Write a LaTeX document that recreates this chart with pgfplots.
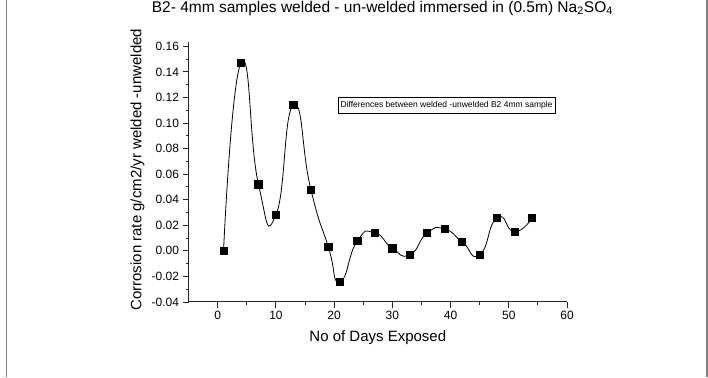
\documentclass[border=0pt]{standalone}
\usepackage{fontspec}
\setmainfont{Liberation Sans}
\usepackage{pgfplots}
\usepackage{pgfplotstable}
\pgfplotsset{compat=1.18}

% Difference in corrosion rate (welded minus un-welded), B2 4mm sample
\pgfplotstableread{
day   diff
1     0.000
4     0.147
7     0.052
10    0.028
13    0.114
16    0.048
19    0.003
21   -0.024
24    0.008
27    0.014
30    0.002
33   -0.003
36    0.014
39    0.017
42    0.007
45   -0.003
48    0.026
51    0.015
54    0.026
}\diffdata

\begin{document}
\begin{tikzpicture}[x=1pt,y=1pt]
\useasboundingbox (0,0) rectangle (708,377);
% page frame lines
\draw[black!50, line width=1.4pt] (6.5,0) -- (6.5,377);
\draw[black!50, line width=1.4pt] (707,0) -- (707,377);
\begin{axis}[
  at={(188.6pt,75pt)}, anchor=south west,
  scale only axis, width=378.4pt, height=259.5pt,
  xmin=-5, xmax=60, ymin=-0.04, ymax=0.163,
  axis lines=left,
  axis line style={-, line width=1.0pt, black!85},
  tick style={line width=0.9pt, black!85},
  tick align=outside,
  major tick length=6pt, minor tick length=3pt,
  xtick={0,10,20,30,40,50,60},
  ytick={-0.04,-0.02,0,0.02,0.04,0.06,0.08,0.10,0.12,0.14,0.16},
  minor x tick num=1, minor y tick num=1,
  /pgf/number format/assume math mode=true,
  tick label style={font=\fontsize{12}{14}\selectfont},
  yticklabel style={/pgf/number format/.cd, fixed, fixed zerofill, precision=2},
  xlabel={No of Days Exposed},
  ylabel={Corrosion rate g/cm2/yr welded -unwelded},
  label style={font=\fontsize{15}{18}\selectfont},
  xlabel style={at={(axis description cs:0.5,-0.152)}, anchor=base},
  ylabel style={at={(axis description cs:-0.1245,0.51)}, anchor=base, rotate=0},
  title={B2- 4mm samples welded - un-welded immersed in (0.5m) Na\textsubscript{2}SO\textsubscript{4}},
  title style={at={(axis description cs:0.512,1.093)}, anchor=base, inner sep=0pt,
    font=\fontsize{15.5}{18}\selectfont},
  clip=false,
]
\addplot[black, line width=0.8pt, smooth, tension=1,
  mark=square*, mark size=3.6pt, mark options={solid, fill=black}]
  table[x=day, y=diff] {\diffdata};
\node[draw=black, line width=0.7pt, fill=white, inner xsep=2.5pt, inner ysep=4pt,
  font=\fontsize{8.5}{10}\selectfont]
  at (rel axis cs:0.6816,0.759) {Differences between welded -unwelded B2 4mm sample};
\end{axis}
\end{tikzpicture}
\end{document}
